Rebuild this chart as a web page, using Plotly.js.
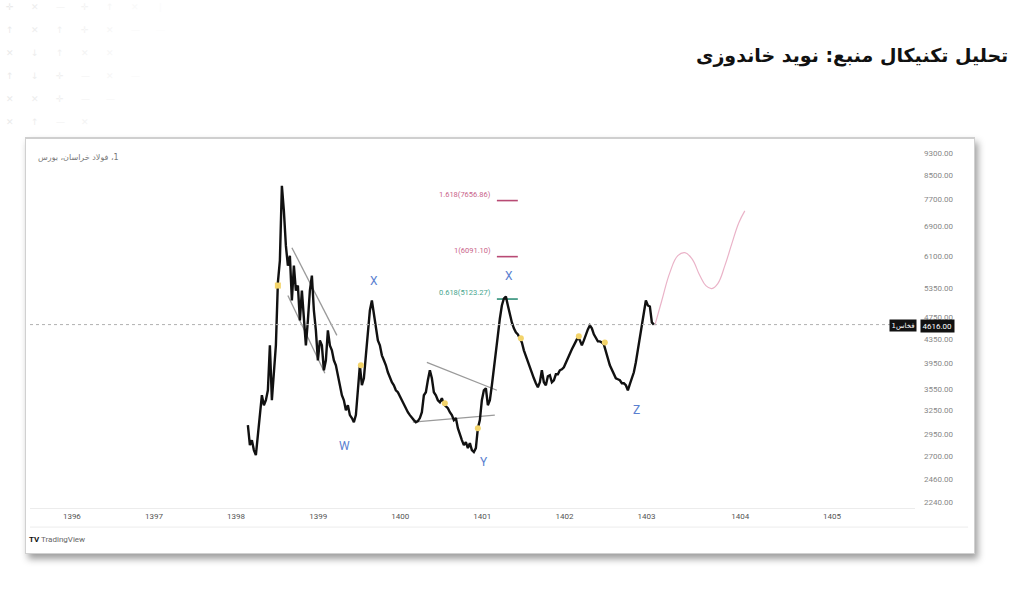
<!DOCTYPE html>
<html>
<head>
<meta charset="utf-8">
<script src="https://cdn.plot.ly/plotly-3.0.1.min.js"></script>
<style>
  html, body { margin: 0; padding: 0; background: #ffffff; width: 1024px; height: 613px; overflow: hidden; }
  #card { position: absolute; left: 25px; top: 137px; width: 948px; height: 414px; background: #fff;
          border: 1px solid #d0d0d0; border-top: 2px solid #cfcfcf; box-shadow: 3px 5px 7px rgba(0,0,0,0.38); }
  #chart { position: absolute; left: 0; top: 0; width: 1024px; height: 613px; }
</style>
</head>
<body>
<div id="card"></div>
<div id="chart"></div>
<script>
// ---------- data ----------
const priceStart = 1398.144;   // first bar (year)
const priceStep = 0.02436;     // spacing between sampled bars (years)
const closes = [
  3062, 2823, 2881, 2766, 2710, 2940, 3126, 3460, 3322, 3390,
  3531, 4241, 3390, 3831, 4241, 5479, 5993, 8131, 7343, 6370,
  5871, 6115, 5093, 5871, 5304, 5413, 4695, 5304, 4791, 4241,
  4695, 5304, 5638, 4890, 4508, 3990, 4328, 4241, 3831, 3990,
  4508, 4241, 4156, 3990, 3910, 3754, 3604, 3460, 3390, 3255,
  3322, 3190, 3152, 3100, 3190, 3531, 3910, 3604, 3708, 4072,
  4508, 4890, 5093, 4791, 4600, 4328, 4241, 4072, 3990, 3910,
  3800, 3708, 3648, 3604, 3531, 3503, 3446, 3390, 3322, 3282,
  3229, 3190, 3152, 3126, 3100, 3113, 3152, 3229, 3460, 3503,
  3678, 3831, 3708, 3503, 3460, 3390, 3363, 3418, 3335, 3308,
  3282, 3229, 3190, 3126, 3152, 3025, 2940, 2881, 2823, 2858,
  2789, 2846, 2766, 2744, 2789, 3025, 3126, 3390, 3531, 3560,
  3322, 3390, 3604, 3831, 4072, 4418, 4733, 4991, 5134, 5176,
  4991, 4791, 4657, 4545, 4472, 4436, 4364, 4293, 4156, 4056,
  3958, 3863, 3800, 3708, 3633, 3575, 3648, 3831, 3648, 3604,
  3739, 3754, 3648, 3678, 3769, 3769, 3831, 3847, 3879, 3958,
  4023, 4123, 4173, 4241, 4328, 4382, 4328, 4241, 4328, 4436,
  4527, 4600, 4545, 4436, 4364, 4311, 4311, 4293, 4258, 4156,
  4023, 3910, 3831, 3769, 3708, 3693, 3678, 3633, 3633, 3604,
  3531, 3619, 3708, 3800, 3958, 4156, 4364, 4657, 4890, 5093,
  4991, 4971, 4657, 4616
];
const lastPrice = 4616;

// projected path (pink curve)
const projX = [1403.101, 1403.186, 1403.284, 1403.381, 1403.467, 1403.552, 1403.649, 1403.722, 1403.795, 1403.868, 1403.954, 1404.039, 1404.124, 1404.197];
const projY = [4600, 5093, 5707, 6115, 6190, 6042, 5638, 5413, 5348, 5457, 5871, 6423, 6994, 7343];

// fibonacci targets
const fibLabels = ["1.618(7656.86)", "1(6091.10)", "0.618(5123.27)"];
const fibValues = [7656.86, 6091.10, 5123.27];
const fibColors = ["#c9638a", "#c9638a", "#46a58e"];
const fibLineColors = ["#b84a74", "#b84a74", "#2f8f78"];
const fibX0 = 1401.177, fibX1 = 1401.432;

// wedge channel lines
const wedgeUpperX = [1398.680, 1399.228], wedgeUpperY = [6318, 4418];
const wedgeLowerX = [1398.631, 1399.082], wedgeLowerY = [5197, 3785];
// triangle lines
const triUpperX = [1400.324, 1401.177], triUpperY = [3958, 3531];
const triLowerX = [1400.153, 1401.152], triLowerY = [3100, 3190];

// wave labels
const waveText = ["W", "X", "Y", "X", "Z"];
const waveX = [1399.325, 1399.678, 1401.018, 1401.323, 1402.882];
const waveY = [2812, 5524, 2634, 5638, 3255];

// yellow markers
const dotX = [1398.509, 1399.520, 1400.543, 1400.945, 1401.469, 1402.175, 1402.492];
const dotY = [5413, 3910, 3349, 3025, 4364, 4400, 4293];
const dotSymbols = ["square", "circle", "circle", "circle", "circle", "circle", "circle"];

// axes
const yTicks = [2240, 2460, 2700, 2950, 3250, 3550, 3950, 4350, 4750, 5350, 6100, 6900, 7700, 8500, 9300];
const xTickVals = [1396, 1397, 1398, 1399, 1400, 1401, 1402, 1403, 1404.14, 1405.26];
const xTickText = ["1396", "1397", "1398", "1399", "1400", "1401", "1402", "1403", "1404", "1405"];

const titleText = "تحلیل تکنیکال منبع: نوید خاندوزی";
const symbolText = "\u202B1، فولاد خراسان، بورس\u202C";
const symbolTag = "فخاس1";

// faint decorative glyphs in the page corner
const bgRows = [
  ["✛", "✕", "—", "✛", "↑", "✕", "ǀ"],
  ["↑", "✕", "↑", "✛", "✕", "—", "—"],
  ["✕", "↓", "↑", "✕", "✕", "", ""],
  ["↑", "↓", "✛", "—", "✕", "—", ""],
  ["✕", "✕", "✛", "—", "—", "", ""],
  ["✕", "↑", "—", "✕", "", "", ""]
];

// ---------- build ----------
const xs = closes.map((_, i) => priceStart + i * priceStep);
const traces = [];

traces.push({ x: projX, y: projY, type: "scatter", mode: "lines",
  line: { color: "#eab3c8", width: 1.2, shape: "spline", smoothing: 1.2 }, hoverinfo: "skip" });

[[wedgeUpperX, wedgeUpperY], [wedgeLowerX, wedgeLowerY], [triUpperX, triUpperY], [triLowerX, triLowerY]].forEach(p => {
  traces.push({ x: p[0], y: p[1], type: "scatter", mode: "lines",
    line: { color: "#9a9a9a", width: 1.3 }, hoverinfo: "skip" });
});

fibValues.forEach((v, i) => {
  traces.push({ x: [fibX0, fibX1], y: [v, v], type: "scatter", mode: "lines",
    line: { color: fibLineColors[i], width: 1.6 }, hoverinfo: "skip" });
});

traces.push({ x: xs, y: closes, type: "scatter", mode: "lines",
  line: { color: "#111", width: 2.4 }, hoverinfo: "skip" });

traces.push({ x: dotX, y: dotY, type: "scatter", mode: "markers",
  marker: { color: "#f3d46b", size: 6, symbol: dotSymbols, line: { width: 0 } }, hoverinfo: "skip" });

const annotations = [];
fibValues.forEach((v, i) => {
  annotations.push({ x: fibX0 - 0.05, y: Math.log10(v) + 0.011, xref: "x", yref: "y", text: fibLabels[i],
    showarrow: false, xanchor: "right", yanchor: "middle",
    font: { family: "Roboto, Arial, sans-serif", size: 7.5, color: fibColors[i] } });
});
waveText.forEach((t, i) => {
  annotations.push({ x: waveX[i], y: Math.log10(waveY[i]), xref: "x", yref: "y", text: t,
    showarrow: false, xanchor: "center", yanchor: "middle",
    font: { family: "Roboto, Arial, sans-serif", size: 12, color: "#5a7fd0" } });
});
// title
annotations.push({ x: 1.107, y: 1.232, xref: "paper", yref: "paper", text: "<b>" + titleText + "</b>",
  showarrow: false, xanchor: "right", yanchor: "middle",
  font: { family: "DejaVu Sans, sans-serif", size: 19, color: "#111" } });
// symbol text
annotations.push({ x: 0.007, y: 0.955, xref: "paper", yref: "paper", text: symbolText,
  showarrow: false, xanchor: "left", yanchor: "middle",
  font: { family: "DejaVu Sans, sans-serif", size: 8, color: "#777" } });
// last price tags
annotations.push({ x: 1.006, y: Math.log10(lastPrice), xref: "paper", yref: "y", text: lastPrice.toFixed(2),
  showarrow: false, xanchor: "left", yanchor: "top", yshift: 6, bgcolor: "#111", borderpad: 1.5,
  font: { family: "Roboto, Arial, sans-serif", size: 8, color: "#fff" } });
annotations.push({ x: 1.002, y: Math.log10(lastPrice), xref: "paper", yref: "y", text: symbolTag,
  showarrow: false, xanchor: "right", yanchor: "top", yshift: 6, bgcolor: "#111", borderpad: 1.5,
  font: { family: "DejaVu Sans, sans-serif", size: 7, color: "#fff" } });
// TradingView logo
annotations.push({ x: -0.003, y: -0.087, xref: "paper", yref: "paper",
  text: "<b>TV</b> <span style='color:#666'>TradingView</span>",
  showarrow: false, xanchor: "left", yanchor: "middle",
  font: { family: "Roboto, Arial, sans-serif", size: 8, color: "#111" } });
// decorative corner glyphs
bgRows.forEach((row, r) => {
  row.forEach((g, c) => {
    if (!g) return;
    const shade = 234 + c * 3;
    annotations.push({ x: (10 + c * 25 - 30) / 885, y: (508 - (6 + r * 23)) / 368, xref: "paper", yref: "paper",
      text: g, showarrow: false, xanchor: "center", yanchor: "middle",
      font: { family: "DejaVu Sans, sans-serif", size: 9, color: "rgb(" + shade + "," + shade + "," + shade + ")" } });
  });
});

const shapes = [
  { type: "line", xref: "paper", yref: "y", x0: 0, x1: 1, y0: lastPrice, y1: lastPrice,
    line: { color: "#b0b0b0", width: 1, dash: "dot" } },
  { type: "line", xref: "paper", yref: "paper", x0: 0, x1: 1.06, y0: -0.052, y1: -0.052,
    line: { color: "#ececec", width: 1 } }
];

const layout = {
  width: 1024, height: 613,
  margin: { l: 30, r: 109, t: 141, b: 105 },
  paper_bgcolor: "rgba(0,0,0,0)", plot_bgcolor: "rgba(0,0,0,0)",
  showlegend: false,
  xaxis: { range: [1395.49, 1406.27], tickvals: xTickVals, ticktext: xTickText,
    showgrid: false, zeroline: false, showline: true, linecolor: "#ececec", ticks: "",
    tickfont: { family: "Roboto, Arial, sans-serif", size: 8, color: "#555" } },
  yaxis: { type: "log", range: [Math.log10(2184), Math.log10(9764)], side: "right",
    tickvals: yTicks, ticktext: yTicks.map(v => v.toFixed(2)),
    showgrid: false, zeroline: false, showline: false, ticks: "", ticklabelstandoff: 8,
    tickfont: { family: "Roboto, Arial, sans-serif", size: 8, color: "#888" } },
  annotations: annotations,
  shapes: shapes
};

Plotly.newPlot("chart", traces, layout, { displayModeBar: false, staticPlot: true });
</script>
</body>
</html>
